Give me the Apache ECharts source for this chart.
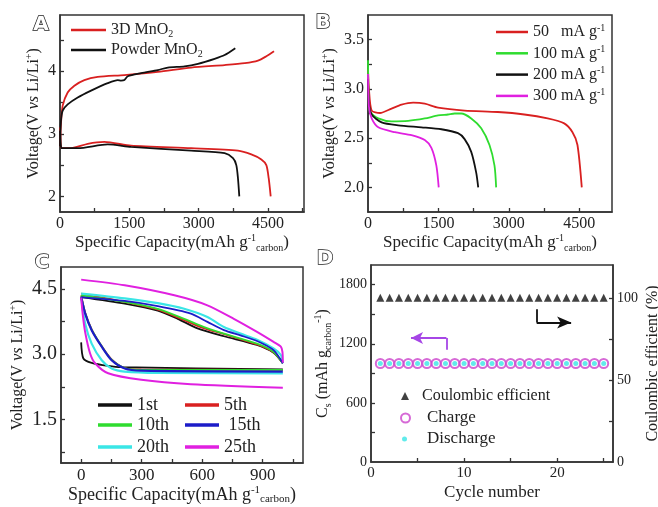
<!DOCTYPE html>
<html>
<head>
<meta charset="utf-8">
<script src="https://cdn.jsdelivr.net/npm/echarts/dist/echarts.min.js"></script>
<style>
  html, body { margin: 0; padding: 0; background: #fff; }
  #main { width: 658px; height: 507px; }
</style>
</head>
<body>
<div id="main"></div>
<script>
// ---- panel A: charge / discharge, 3D vs powder MnO2 ----
const aRedCharge = [[0,2.8],[20,3.15],[58,3.45],[166,3.66],[311,3.77],[527,3.86],[816,3.91],[1394,3.94],[2117,3.99],[2839,4.06],[3562,4.1],[4000,4.13],[4284,4.17],[4465,4.24],[4631,4.32]];
const aBlackCharge = [[0,2.8],[20,3.2],[58,3.37],[166,3.47],[383,3.58],[672,3.69],[1033,3.81],[1250,3.86],[1322,3.85],[1394,3.86],[1467,3.92],[1756,3.97],[2117,4.02],[2334,4.06],[2695,4.08],[2984,4.12],[3345,4.2],[3562,4.26],[3793,4.37]];
const aRedDischarge = [[0,3.1],[20,2.8],[36,2.77],[238,2.77],[600,2.84],[961,2.87],[1539,2.81],[2839,2.77],[3851,2.73],[4140,2.67],[4357,2.59],[4465,2.5],[4516,2.29],[4559,2.0]];
const aBlackDischarge = [[0,3.05],[20,2.8],[40,2.77],[383,2.77],[1033,2.83],[1539,2.79],[2839,2.73],[3562,2.69],[3743,2.61],[3815,2.5],[3851,2.29],[3880,2.0]];

// ---- panel B: discharge at different current densities ----
const b50 = [[0,3.2],[20,3.0],[78,2.78],[255,2.755],[502,2.8],[715,2.84],[962,2.86],[1210,2.85],[1493,2.81],[2059,2.78],[2766,2.765],[3332,2.74],[3828,2.7],[4181,2.65],[4358,2.56],[4464,2.43],[4556,2.0]];
const b100 = [[0,3.29],[15,2.9],[42,2.77],[219,2.7],[502,2.67],[856,2.675],[1210,2.7],[1493,2.73],[1705,2.74],[1847,2.75],[1988,2.75],[2200,2.7],[2413,2.6],[2589,2.43],[2696,2.22],[2731,2.0]];
const b200 = [[0,3.1],[20,2.85],[78,2.74],[290,2.66],[644,2.63],[1139,2.61],[1564,2.59],[1917,2.55],[2059,2.49],[2200,2.36],[2306,2.15],[2349,2.0]];
const b300 = [[0,3.15],[20,2.82],[78,2.7],[219,2.61],[573,2.56],[927,2.53],[1210,2.48],[1351,2.4],[1457,2.22],[1507,2.0]];

// ---- panel C: cycling at 1000 mAh/g ----
const c1Up = [[0,4.31],[216,4.16],[380,4.0],[479,3.81],[577,3.59],[708,3.41],[872,3.21],[954,3.03],[1000,2.79]];
const c1Low = [[0,3.27],[11,2.9],[52,2.8],[134,2.73],[200,2.7],[1000,2.65]];
const c5Up = [[0,4.39],[216,4.2],[380,4.02],[511,3.78],[610,3.59],[708,3.46],[872,3.22],[954,3.04],[1000,2.79]];
const c5Low = [[0,4.35],[20,3.95],[52,3.57],[102,3.18],[151,2.88],[216,2.68],[298,2.65],[1000,2.64]];
const c10Up = [[0,4.35],[216,4.2],[380,4.04],[511,3.81],[610,3.62],[708,3.47],[872,3.24],[954,3.05],[1000,2.79]];
const c10Low = [[0,4.33],[20,3.94],[52,3.56],[102,3.18],[151,2.87],[216,2.68],[298,2.64],[1000,2.64]];
const c15Up = [[0,4.31],[216,4.22],[380,4.1],[544,3.93],[626,3.74],[708,3.55],[790,3.43],[872,3.3],[954,3.09],[1000,2.79]];
const c15Low = [[0,4.31],[20,3.93],[52,3.55],[102,3.17],[151,2.86],[216,2.67],[298,2.62],[1000,2.6]];
const c20Up = [[0,4.39],[216,4.28],[380,4.17],[511,4.04],[626,3.85],[708,3.62],[790,3.47],[872,3.33],[954,3.13],[990,2.98],[1000,2.79]];
const c20Low = [[0,4.31],[20,3.7],[52,3.24],[102,2.86],[151,2.67],[216,2.6],[380,2.57],[1000,2.56]];
const c25Up = [[0,4.71],[216,4.58],[462,4.35],[626,4.12],[757,3.81],[872,3.51],[954,3.28],[990,3.17],[998,3.05],[1000,2.8]];
const c25Low = [[0,4.3],[8,3.9],[20,3.5],[44,3.02],[69,2.79],[134,2.56],[298,2.41],[544,2.31],[1000,2.23]];

// ---- panel D: cycle performance ----
const cycles = [1,2,3,4,5,6,7,8,9,10,11,12,13,14,15,16,17,18,19,20,21,22,23,24,25];
const chargeCap = [1000,1000,1000,1000,1000,1000,1000,1000,1000,1000,1000,1000,1000,1000,1000,1000,1000,1000,1000,1000,1000,1000,1000,1000,1000];
const dischargeCap = [1000,1000,1000,1000,1000,1000,1000,1000,1000,1000,1000,1000,1000,1000,1000,1000,1000,1000,1000,1000,1000,1000,1000,1000,1000];
const efficiency = [100,100,100,100,100,100,100,100,100,100,100,100,100,100,100,100,100,100,100,100,100,100,100,100,100];
const chargeArrow = [[8.1,1140],[8.1,1260],[4.3,1260]];
const effArrow = [[17.8,93],[17.8,85],[21.5,85]];

// tick values
const capTicks = [750,1500,2250,3000,3750,4500,5250];
const capLabels = [0,1500,3000,4500];
const aVoltTicks = [2,2.5,3,3.5,4,4.5];
const aVoltLabels = [2,3,4];
const bVoltTicks = [2,2.25,2.5,2.75,3,3.25,3.5];
const bVoltLabels = [2,2.5,3,3.5];
const cCapTicks = [0,150,300,450,600,750,900,1050];
const cCapLabels = [0,300,600,900];
const cVoltTicks = [0.75,1.5,2.25,3,3.75,4.5];
const cVoltLabels = [1.5,3,4.5];
const cycleTicks = [5,10,15,20,25];
const cycleLabels = [0,10,20];
const csTicks = [300,600,900,1200,1500,1800];
const csLabels = [0,600,1200,1800];
const ceTicks = [25,50,75,100];
const ceLabels = [0,50,100];

const FONT = "'Liberation Serif', 'Times New Roman', serif";
const RED = '#d92020', BLACK = '#111', GREEN = '#2fdc2f', MAGENTA = '#e020e0', BLUE = '#1c1cc8', CYAN = '#3ae6e6';

const rich = (size) => ({
  sup: { fontSize: Math.round(size * 0.6), verticalAlign: 'top', lineHeight: 10, fontFamily: FONT, color: '#222' },
  sub: { fontSize: Math.round(size * 0.6), verticalAlign: 'bottom', lineHeight: 10, fontFamily: FONT, color: '#222' },
  i: { fontSize: size, fontStyle: 'italic', fontFamily: FONT, color: '#222' }
});

const voltName = 'Voltage(V {i|vs} Li/Li{sup|+})';
const capName = 'Specific Capacity(mAh g{sup|-1}{sub|carbon})';

function xAx(grid, min, max, ticks, labels, size, name, gap, fmt, nameSize) {
  const ns = nameSize || size + 1;
  return {
    type: 'value', gridIndex: grid, min: min, max: max,
    name: name, nameLocation: 'middle', nameGap: gap,
    nameTextStyle: { fontFamily: FONT, fontSize: ns, color: '#222', lineHeight: 20, rich: rich(ns) },
    axisLine: { show: true, onZero: false, lineStyle: { color: '#333', width: 1.5 } },
    axisTick: { show: true, inside: true, length: 4, customValues: ticks, lineStyle: { color: '#333', width: 1.3 } },
    axisLabel: { customValues: labels, margin: 4, fontFamily: FONT, fontSize: size, color: '#222', formatter: fmt },
    splitLine: { show: false }
  };
}
function yAx(grid, min, max, ticks, labels, size, name, gap, fmt, pos) {
  return {
    type: 'value', gridIndex: grid, min: min, max: max, position: pos || 'left',
    name: name, nameLocation: 'middle', nameGap: gap, nameRotate: 90,
    nameTextStyle: { fontFamily: FONT, fontSize: 16, color: '#222', lineHeight: 20, rich: rich(16) },
    axisLine: { show: true, onZero: false, lineStyle: { color: '#333', width: 1.5 } },
    axisTick: { show: true, inside: true, length: 4, customValues: ticks, lineStyle: { color: '#333', width: 1.3 } },
    axisLabel: { customValues: labels, margin: 4, fontFamily: FONT, fontSize: size, color: '#222', formatter: fmt },
    splitLine: { show: false }
  };
}
function curve(name, data, color, x, y, w) {
  return {
    name: name, type: 'line', data: data, xAxisIndex: x, yAxisIndex: y,
    symbol: 'none', smooth: 0.25, color: color,
    itemStyle: { color: color },
    lineStyle: { color: color, width: w || 1.8 }
  };
}
function lineLegend(items, left, top, gap, w, h, size, fmt) {
  return {
    data: items, orient: 'vertical', left: left, top: top, itemGap: gap,
    itemWidth: w, itemHeight: h, icon: 'rect', padding: 0,
    textStyle: { fontFamily: FONT, fontSize: size, color: '#222', lineHeight: 18, rich: rich(size) },
    formatter: fmt
  };
}
function markerLegend(item, left, top, size, pad, fontSize) {
  return {
    data: [item], left: left, top: top, itemWidth: size, itemHeight: size, padding: 0,
    textStyle: { fontFamily: FONT, fontSize: fontSize, color: '#222', lineHeight: 18, padding: [0, 0, 0, pad] }
  };
}
function arrowLine(pts, size) {
  return [
    [{ coord: pts[0], symbol: 'none' }, { coord: pts[1], symbol: 'none' }],
    [{ coord: pts[1], symbol: 'none' }, { coord: pts[2], symbol: 'arrow', symbolSize: size }]
  ];
}

const chart = echarts.init(document.getElementById('main'));
const oneDec = v => v.toFixed(1);
const plain = v => String(v);

const option = {
  animation: false,
  backgroundColor: '#fff',
  grid: [
    { left: 60, top: 15, width: 244, height: 197, show: true, borderColor: '#333', borderWidth: 1.5, outerBoundsMode: 'none' },
    { left: 368, top: 15, width: 244, height: 197, show: true, borderColor: '#333', borderWidth: 1.5, outerBoundsMode: 'none' },
    { left: 61, top: 267, width: 242, height: 196, show: true, borderColor: '#333', borderWidth: 1.5, outerBoundsMode: 'none' },
    { left: 371, top: 265, width: 242, height: 197, show: true, borderColor: '#333', borderWidth: 1.5, outerBoundsMode: 'none' }
  ],
  xAxis: [
    xAx(0, 0, 5280, capTicks, capLabels, 16, capName, 18, plain),
    xAx(1, 0, 5200, capTicks, capLabels, 16, capName, 18, plain),
    xAx(2, -100, 1100, cCapTicks, cCapLabels, 17, capName, 20, plain),
    xAx(3, 0, 26, cycleTicks, cycleLabels, 15, 'Cycle number', 21, plain, 17)
  ],
  yAxis: [
    yAx(0, 1.75, 4.9, aVoltTicks, aVoltLabels, 16, voltName, 16, plain),
    yAx(1, 1.75, 3.75, bVoltTicks, bVoltLabels, 16, voltName, 28, oneDec),
    yAx(2, 0.5, 5.0, cVoltTicks, cVoltLabels, 20, voltName, 30, oneDec),
    yAx(3, 0, 2000, csTicks, csLabels, 14, 'C{sub|s} (mAh g{sub|carbon}{sup|-1})', 38, plain),
    yAx(3, 0, 120, ceTicks, ceLabels, 14, 'Coulombic efficient (%)', 30, plain, 'right')
  ],
  legend: [
    lineLegend(['3D MnO2', 'Powder MnO2'], 71, 21, 2, 35, 2.5, 16,
      n => n.replace('MnO2', 'MnO{sub|2}')),
    lineLegend(['50   mA g-1', '100 mA g-1', '200 mA g-1', '300 mA g-1'], 496, 23, 3.3, 32, 2.5, 16,
      n => n.replace('g-1', 'g{sup|-1}')),
    lineLegend(['1st'], 98, 396, 0, 34, 3.5, 18),
    lineLegend(['5th'], 185, 396, 0, 34, 3.5, 18),
    lineLegend(['10th'], 98, 416, 0, 34, 3.5, 18),
    lineLegend(['15th'], 185, 416, 0, 34, 3.5, 18, n => ' ' + n),
    lineLegend(['20th'], 98, 438, 0, 34, 3.5, 18),
    lineLegend(['25th'], 185, 438, 0, 34, 3.5, 18),
    markerLegend('Coulombic efficient', 401, 387, 8, 8, 16),
    markerLegend('Charge', 400, 409, 9, 12, 17),
    markerLegend('Discharge', 402, 430, 5, 15, 17)
  ],
  graphic: ['A', 'B', 'C', 'D'].map((t, i) => ({
    type: 'text',
    x: [41, 323, 42, 325][i], y: [25, 23, 263, 259][i],
    style: { text: t, fill: '#fff', stroke: '#222', lineWidth: 1.5, fontSize: 20, fontWeight: 'bold',
      fontFamily: 'DejaVu Sans', align: 'center', verticalAlign: 'middle' }
  })),
  series: [
    curve('3D MnO2', aRedCharge, RED, 0, 0),
    curve('3D MnO2', aRedDischarge, RED, 0, 0),
    curve('Powder MnO2', aBlackCharge, BLACK, 0, 0),
    curve('Powder MnO2', aBlackDischarge, BLACK, 0, 0),

    curve('50   mA g-1', b50, RED, 1, 1),
    curve('100 mA g-1', b100, GREEN, 1, 1),
    curve('200 mA g-1', b200, BLACK, 1, 1),
    curve('300 mA g-1', b300, MAGENTA, 1, 1),

    curve('1st', c1Low, BLACK, 2, 2),
    curve('1st', c1Up, BLACK, 2, 2),
    curve('5th', c5Low, RED, 2, 2),
    curve('5th', c5Up, RED, 2, 2),
    curve('10th', c10Low, GREEN, 2, 2),
    curve('10th', c10Up, GREEN, 2, 2),
    curve('20th', c20Low, CYAN, 2, 2, 2.2),
    curve('20th', c20Up, CYAN, 2, 2, 2.2),
    curve('15th', c15Low, BLUE, 2, 2, 2.2),
    curve('15th', c15Up, BLUE, 2, 2),
    curve('25th', c25Low, MAGENTA, 2, 2, 2),
    curve('25th', c25Up, MAGENTA, 2, 2, 2),

    {
      name: 'Coulombic efficient', type: 'scatter', xAxisIndex: 3, yAxisIndex: 4,
      data: cycles.map((c, i) => [c, efficiency[i]]),
      symbol: 'triangle', symbolSize: 8, itemStyle: { color: BLACK },
      markLine: { silent: true, animation: false, label: { show: false },
        lineStyle: { color: BLACK, width: 1.8, type: 'solid' },
        data: arrowLine(effArrow, [9, 14]) }
    },
    {
      name: 'Charge', type: 'scatter', xAxisIndex: 3, yAxisIndex: 3,
      data: cycles.map((c, i) => [c, chargeCap[i]]),
      symbol: 'emptyCircle', symbolSize: 9,
      itemStyle: { color: '#cc44cc', borderColor: '#cc44cc', borderWidth: 1.5 },
      markLine: { silent: true, animation: false, label: { show: false },
        lineStyle: { color: '#a646e6', width: 1.8, type: 'solid' },
        data: arrowLine(chargeArrow, [9, 12]) }
    },
    {
      name: 'Discharge', type: 'scatter', xAxisIndex: 3, yAxisIndex: 3,
      data: cycles.map((c, i) => [c, dischargeCap[i]]),
      symbol: 'circle', symbolSize: 5, itemStyle: { color: CYAN }
    }
  ]
};
chart.setOption(option);
</script>
</body>
</html>
